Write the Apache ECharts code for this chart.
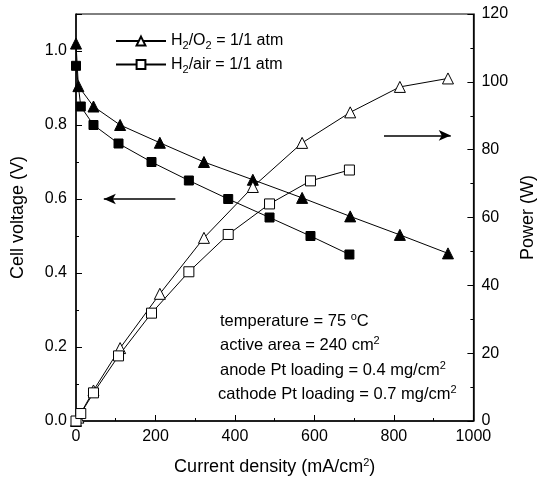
<!DOCTYPE html>
<html><head><meta charset="utf-8">
<script src="https://cdn.jsdelivr.net/npm/echarts@6/dist/echarts.min.js"></script>
<style>html,body{margin:0;padding:0;background:#fff}#c{width:545px;height:485px}</style>
</head><body><div id="c"></div>
<script>
// Current density (mA/cm2)
const xO2 = [0, 6, 44, 111, 211, 322, 445, 569, 690, 815, 936];
const voltO2 = [1.02, 0.905, 0.85, 0.80, 0.752, 0.70, 0.652, 0.603, 0.553, 0.503, 0.453];
const powerO2 = [0, 1.0, 9.0, 21.5, 37.5, 54, 69, 82, 91, 98.5, 101];
const xAir = [0, 12, 44, 107, 190, 284, 383, 487, 590, 688];
const voltAir = [0.96, 0.85, 0.80, 0.75, 0.70, 0.65, 0.60, 0.55, 0.50, 0.45];
const powerAir = [0, 2.2, 8.3, 19.2, 31.8, 44, 55, 64, 70.8, 74];
const xTicks = [0, 200, 400, 600, 800, 1000];
const leftTicks = [0.0, 0.2, 0.4, 0.6, 0.8, 1.0];
const rightTicks = [0, 20, 40, 60, 80, 100, 120];
const seriesNames = ['H2/O2 = 1/1 atm', 'H2/air = 1/1 atm'];
const notes = ['temperature = 75 °C', 'active area = 240 cm2', 'anode Pt loading = 0.4 mg/cm2', 'cathode Pt loading = 0.7 mg/cm2'];

const FONT = 'Liberation Sans, Arial, sans-serif';
const pair = (xs, ys) => xs.map((x, i) => [x, ys[i]]);
const chart = echarts.init(document.getElementById('c'));

const axisCommon = {
  axisLine: {show: true, lineStyle: {color: '#000', width: 1.5}},
  axisTick: {show: true, inside: true, length: 6, lineStyle: {color: '#000', width: 1}},
  minorTick: {show: true, splitNumber: 2, length: 3, lineStyle: {color: '#000', width: 1}},
  splitLine: {show: false},
  axisLabel: {color: '#000', fontSize: 16, fontFamily: FONT}
};
const sub = {fontSize: 11, fontFamily: FONT, color: '#000', padding: [10, 0, 0, 0]};
const base = {fontSize: 16, fontFamily: FONT, color: '#000'};

function legendFmt(name) {
  if (name === seriesNames[0]) return '{a|H}{s|2}{a|/O}{s|2}{a| = 1/1 atm}';
  return '{a|H}{s|2}{a|/air = 1/1 atm}';
}
function noteRich(t) {
  return t.replace('°C', '{p|o}{n|C}').replace(/cm2$/, 'cm{p|2}').replace(/^(.*?)(\{|$)/, '{n|$1}$2');
}

const option = {
  animation: false,
  backgroundColor: '#fff',
  grid: {left: 76, right: 64, top: 14, bottom: 64, show: true, borderColor: '#000', borderWidth: 1, backgroundColor: 'transparent'},
  legend: {
    show: true, orient: 'vertical', left: 110, top: 28, itemGap: 5, itemWidth: 50, itemHeight: 11,
    data: seriesNames, formatter: legendFmt,
    textStyle: {rich: {a: base, s: sub}}
  },
  xAxis: Object.assign({}, axisCommon, {
    type: 'value', min: 0, max: 1000, interval: 200,
    name: '{t|Current density (mA/cm}{p|2}{t|)}', nameLocation: 'middle', nameGap: 36,
    nameTextStyle: {rich: {t: {fontSize: 18, fontFamily: FONT, color: '#000'}, p: {fontSize: 11, fontFamily: FONT, color: '#000', padding: [0, 0, 9, 0]}}},
    axisLabel: Object.assign({}, axisCommon.axisLabel, {margin: 8, formatter: v => xTicks.includes(v) ? String(v) : ''})
  }),
  yAxis: [
    Object.assign({}, axisCommon, {
      type: 'value', min: 0, max: 1.1, interval: 0.2, position: 'left',
      name: 'Cell voltage (V)', nameLocation: 'middle', nameGap: 49,
      nameTextStyle: {fontSize: 18, fontFamily: FONT, color: '#000'},
      axisLabel: Object.assign({}, axisCommon.axisLabel, {margin: 9, showMaxLabel: false,
        formatter: v => leftTicks.some(t => Math.abs(t - v) < 1e-6) ? v.toFixed(1) : ''})
    }),
    Object.assign({}, axisCommon, {
      type: 'value', min: 0, max: 120, interval: 20, position: 'right',
      name: 'Power (W)', nameLocation: 'middle', nameGap: 40,
      nameTextStyle: {fontSize: 18, fontFamily: FONT, color: '#000'},
      axisLabel: Object.assign({}, axisCommon.axisLabel, {margin: 8, formatter: v => rightTicks.includes(v) ? String(v) : ''})
    })
  ],
  series: [
    {
      name: 'V ' + seriesNames[0], type: 'line', yAxisIndex: 0, data: pair(xO2, voltO2),
      symbol: 'triangle', symbolSize: 11, lineStyle: {color: '#000', width: 1},
      itemStyle: {color: '#000', borderColor: '#000'},
      markLine: {
        silent: true, symbol: ['none', 'arrow'], symbolSize: [8, 12],
        lineStyle: {color: '#000', width: 1.5, type: 'solid'}, label: {show: false},
        data: [[{coord: [250, 0.6]}, {coord: [70, 0.6]}]]
      }
    },
    {
      name: 'V ' + seriesNames[1], type: 'line', yAxisIndex: 0, data: pair(xAir, voltAir),
      symbol: 'rect', symbolSize: 9, lineStyle: {color: '#000', width: 1},
      itemStyle: {color: '#000', borderColor: '#000'}
    },
    {
      name: seriesNames[0], type: 'line', yAxisIndex: 1, data: pair(xO2, powerO2),
      symbol: 'triangle', symbolSize: 11, showAllSymbol: true, lineStyle: {color: '#000', width: 1},
      itemStyle: {color: '#fff', borderColor: '#000', borderWidth: 1},
      markLine: {
        silent: true, symbol: ['none', 'arrow'], symbolSize: [8, 12],
        lineStyle: {color: '#000', width: 1.5, type: 'solid'}, label: {show: false},
        data: [[{coord: [775, 84.2]}, {coord: [943, 84.2]}]]
      }
    },
    {
      name: seriesNames[1], type: 'line', yAxisIndex: 1, data: pair(xAir, powerAir),
      symbol: 'rect', symbolSize: 10, lineStyle: {color: '#000', width: 1},
      itemStyle: {color: '#fff', borderColor: '#000', borderWidth: 1}
    }
  ],
  graphic: notes.map((t, i) => ({
    type: 'text', left: i === 3 ? 218 : 220, top: 311 + i * 24.5, z: 10,
    style: {
      text: noteRich(t),
      rich: {n: {fontSize: 16.5, fontFamily: FONT, fill: '#000', color: '#000'}, p: {fontSize: 11, fontFamily: FONT, fill: '#000', color: '#000', padding: [0, 0, 9, 0]}}
    }
  }))
};
chart.setOption(option);
</script></body></html>
